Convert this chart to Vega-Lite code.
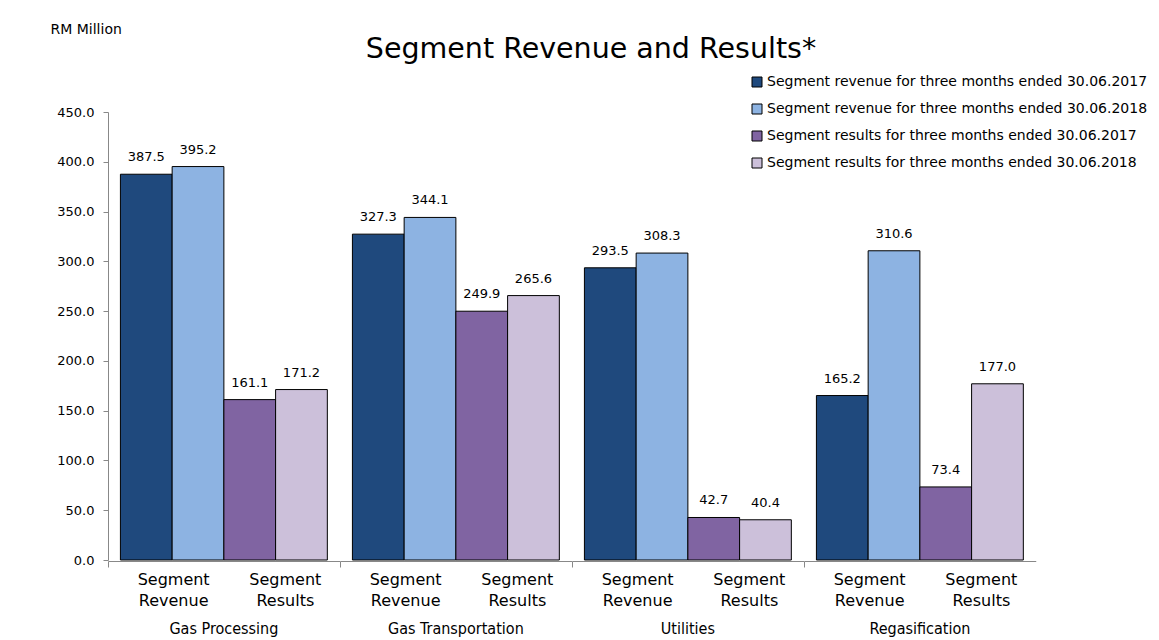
{
  "$schema": "https://vega.github.io/schema/vega-lite/v6.json",
  "padding": {"left": 50, "top": 22, "right": 0, "bottom": 0},
  "background": "white",
  "config": {"font": "DejaVu Sans", "view": {"stroke": null}},
  "title": {"text": "Segment Revenue and Results*", "font": "DejaVu Sans", "fontSize": 28.5, "fontWeight": "normal", "color": "black", "anchor": "middle", "dx": -8, "offset": -41},
  "data": {"values": [
    {"group": "Gas Processing", "pair": "Segment Revenue", "year": "2017", "series": "Segment revenue for three months ended 30.06.2017", "value": 387.5},
    {"group": "Gas Processing", "pair": "Segment Revenue", "year": "2018", "series": "Segment revenue for three months ended 30.06.2018", "value": 395.2},
    {"group": "Gas Processing", "pair": "Segment Results", "year": "2017", "series": "Segment results for three months ended 30.06.2017", "value": 161.1},
    {"group": "Gas Processing", "pair": "Segment Results", "year": "2018", "series": "Segment results for three months ended 30.06.2018", "value": 171.2},
    {"group": "Gas Transportation", "pair": "Segment Revenue", "year": "2017", "series": "Segment revenue for three months ended 30.06.2017", "value": 327.3},
    {"group": "Gas Transportation", "pair": "Segment Revenue", "year": "2018", "series": "Segment revenue for three months ended 30.06.2018", "value": 344.1},
    {"group": "Gas Transportation", "pair": "Segment Results", "year": "2017", "series": "Segment results for three months ended 30.06.2017", "value": 249.9},
    {"group": "Gas Transportation", "pair": "Segment Results", "year": "2018", "series": "Segment results for three months ended 30.06.2018", "value": 265.6},
    {"group": "Utilities", "pair": "Segment Revenue", "year": "2017", "series": "Segment revenue for three months ended 30.06.2017", "value": 293.5},
    {"group": "Utilities", "pair": "Segment Revenue", "year": "2018", "series": "Segment revenue for three months ended 30.06.2018", "value": 308.3},
    {"group": "Utilities", "pair": "Segment Results", "year": "2017", "series": "Segment results for three months ended 30.06.2017", "value": 42.7},
    {"group": "Utilities", "pair": "Segment Results", "year": "2018", "series": "Segment results for three months ended 30.06.2018", "value": 40.4},
    {"group": "Regasification", "pair": "Segment Revenue", "year": "2017", "series": "Segment revenue for three months ended 30.06.2017", "value": 165.2},
    {"group": "Regasification", "pair": "Segment Revenue", "year": "2018", "series": "Segment revenue for three months ended 30.06.2018", "value": 310.6},
    {"group": "Regasification", "pair": "Segment Results", "year": "2017", "series": "Segment results for three months ended 30.06.2017", "value": 73.4},
    {"group": "Regasification", "pair": "Segment Results", "year": "2018", "series": "Segment results for three months ended 30.06.2018", "value": 177.0}
  ]},
  "facet": {"column": {"field": "group", "type": "nominal", "sort": ["Gas Processing", "Gas Transportation", "Utilities", "Regasification"], "title": null,
    "header": {"labelOrient": "bottom", "labelFontSize": 16, "labelPadding": 13, "labelFont": "DejaVu Sans Condensed", "labelColor": "black"}}},
  "spacing": 0,
  "spec": {
    "width": 231.75,
    "height": 448,
    "encoding": {
      "x": {"field": "pair", "type": "nominal", "sort": ["Segment Revenue", "Segment Results"],
        "scale": {"paddingInner": 0, "paddingOuter": 0.12},
        "axis": {"title": null, "labelAngle": 0, "labelExpr": "split(datum.label, ' ')", "labelFontSize": 16, "labelLineHeight": 21, "labelPadding": 4, "labelColor": "black",
          "domainColor": "#888888", "tickOffset": -63.75, "tickSize": 6,
          "labelOffset": {"condition": {"test": "datum.value === 'Segment Results'", "value": 73}, "value": 64.75},
          "tickColor": {"condition": {"test": "datum.value === 'Segment Revenue'", "value": "#888888"}, "value": "transparent"}}},
      "xOffset": {"field": "year", "type": "nominal", "scale": {"paddingInner": 0, "paddingOuter": 0}},
      "y": {"field": "value", "type": "quantitative",
        "scale": {"domain": [0, 450], "nice": false},
        "axis": {"values": [0, 50, 100, 150, 200, 250, 300, 350, 400, 450], "format": ".1f", "grid": false, "labelFontSize": 13, "labelColor": "black", "labelPadding": 9, "domainColor": "#888888", "tickColor": "#888888", "tickSize": 5,
          "title": "RM Million", "titleAngle": 0, "titleAlign": "left", "titleBaseline": "top", "titleX": -58, "titleY": -90, "titleFontSize": 14, "titleFontWeight": "normal", "titleColor": "black"}}
    },
    "layer": [
      {"mark": {"type": "bar", "stroke": "black", "strokeWidth": 1},
       "encoding": {"color": {"field": "series", "type": "nominal",
         "scale": {"domain": ["Segment revenue for three months ended 30.06.2017", "Segment revenue for three months ended 30.06.2018", "Segment results for three months ended 30.06.2017", "Segment results for three months ended 30.06.2018"],
                   "range": ["#1f497d", "#8db3e2", "#8064a2", "#ccc0da"]},
         "legend": {"title": null, "orient": "none", "legendX": 642, "legendY": -37, "symbolType": "square", "symbolSize": 100, "symbolStrokeColor": "black", "symbolStrokeWidth": 1, "labelFontSize": 14, "labelColor": "black", "rowPadding": 13, "labelOffset": 3, "labelLimit": 500}}}},
      {"mark": {"type": "text", "baseline": "bottom", "dy": -10, "fontSize": 13, "color": "black"},
       "encoding": {"text": {"field": "value", "type": "quantitative", "format": ".1f"}}}
    ]
  }
}
